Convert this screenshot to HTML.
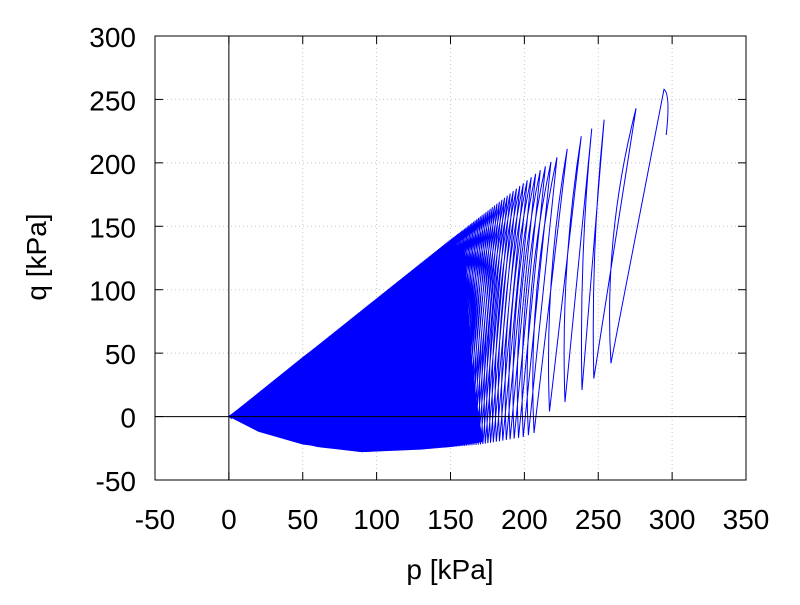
<!DOCTYPE html>
<html><head><meta charset="utf-8"><style>
body{margin:0;background:#fff}
svg text{font-family:"Liberation Sans",sans-serif;font-size:28px;fill:#000}
</style></head><body>
<svg id="s" width="800" height="600" xmlns="http://www.w3.org/2000/svg">
<rect width="800" height="600" fill="#fff"/>
<g id="grid" stroke="#c8c8c8" stroke-width="1" stroke-dasharray="1,3"></g>
<g id="data"></g>
<g id="axes"></g>
<rect x="155" y="36" width="591" height="444" fill="none" stroke="#000" stroke-width="1"/>
<text x="0" y="0" transform="translate(46,257) rotate(-90)" text-anchor="middle">q [kPa]</text>
<text x="450" y="579" text-anchor="middle">p [kPa]</text>
</svg>
<script>
const X=p=>155+(p+50)*1.4775, Y=q=>480-(q+50)*1.2686;
const ns="http://www.w3.org/2000/svg", s=document.getElementById('s');
function el(par,t,a,txt){const e=document.createElementNS(ns,t);for(const k in a)e.setAttribute(k,a[k]);if(txt!==undefined)e.textContent=txt;document.getElementById(par).appendChild(e);return e;}
for(let p=-50;p<=350;p+=50){if(p>-50&&p<350)el('grid','line',{x1:X(p),x2:X(p),y1:36,y2:480});
 el('axes','text',{x:X(p),y:529,'text-anchor':'middle'},p);
 el('axes','line',{x1:X(p),x2:X(p),y1:480,y2:472,stroke:'#000'});el('axes','line',{x1:X(p),x2:X(p),y1:36,y2:44,stroke:'#000'});}
for(let q=-50;q<=300;q+=50){if(q>-50&&q<300)el('grid','line',{x1:155,x2:746,y1:Y(q),y2:Y(q)});
 el('axes','text',{x:136,y:Y(q)+11,'text-anchor':'end'},q);
 el('axes','line',{x1:155,x2:163,y1:Y(q),y2:Y(q),stroke:'#000'});el('axes','line',{x1:746,x2:738,y1:Y(q),y2:Y(q),stroke:'#000'});}
el('axes','line',{x1:X(0),x2:X(0),y1:36,y2:480,stroke:'#000'});
el('axes','line',{x1:155,x2:746,y1:Y(0),y2:Y(0),stroke:'#000'});
const poly=[[0,0],[50,47],[100,91],[150,139],[160,130],[163,60],[168,10],[172,-20],[150,-24],[90,-28],[50,-22],[20,-12],[0,0]];
el('data','polygon',{points:poly.map(a=>X(a[0])+','+Y(a[1])).join(' '),fill:'#0000ff'});
const LQ=[[0,0],[30,-15],[60,-24],[90,-28],[130,-26],[170,-22],[200,-16],[217,-8],[228,0],[240,8],[260,20]];
function lowq(p){if(p<=0)return 0;for(let i=1;i<LQ.length;i++){if(p<=LQ[i][0]){const a=LQ[i-1],b=LQ[i];return a[1]+(b[1]-a[1])*(p-a[0])/(b[0]-a[0]);}}return 20;}
let cyc=[],pk=1;
while(pk<224){const q=pk<150?0.93*pk:139.5+(pk-150)*0.9;const pb=pk-Math.max(1,0.07*pk);cyc.push([pk,q,pb,lowq(pb)]);pk+=0.4+5*Math.pow(pk/229,6);}
cyc.push([229,211,217,4],[238.5,221,227.5,11.5],[245.6,227,239,21],[254,234,247,30],[275.6,243,258.6,42]);
let d='M'+X(0)+','+Y(0);
for(const c of cyc){
 d+=' L'+X(c[0])+','+Y(c[1]);
 const dx=c[0]-c[2];
 d+=' Q'+X(c[2]-dx*0.3)+','+Y((c[1]+c[3])/2)+' '+X(c[2])+','+Y(c[3]);
}
d+=' L'+X(294.5)+','+Y(258)+' Q'+X(299)+','+Y(254)+' '+X(296)+','+Y(222);
el('data','path',{d:d,fill:'none',stroke:'#0000ff','stroke-width':1});
</script>
</body></html>
